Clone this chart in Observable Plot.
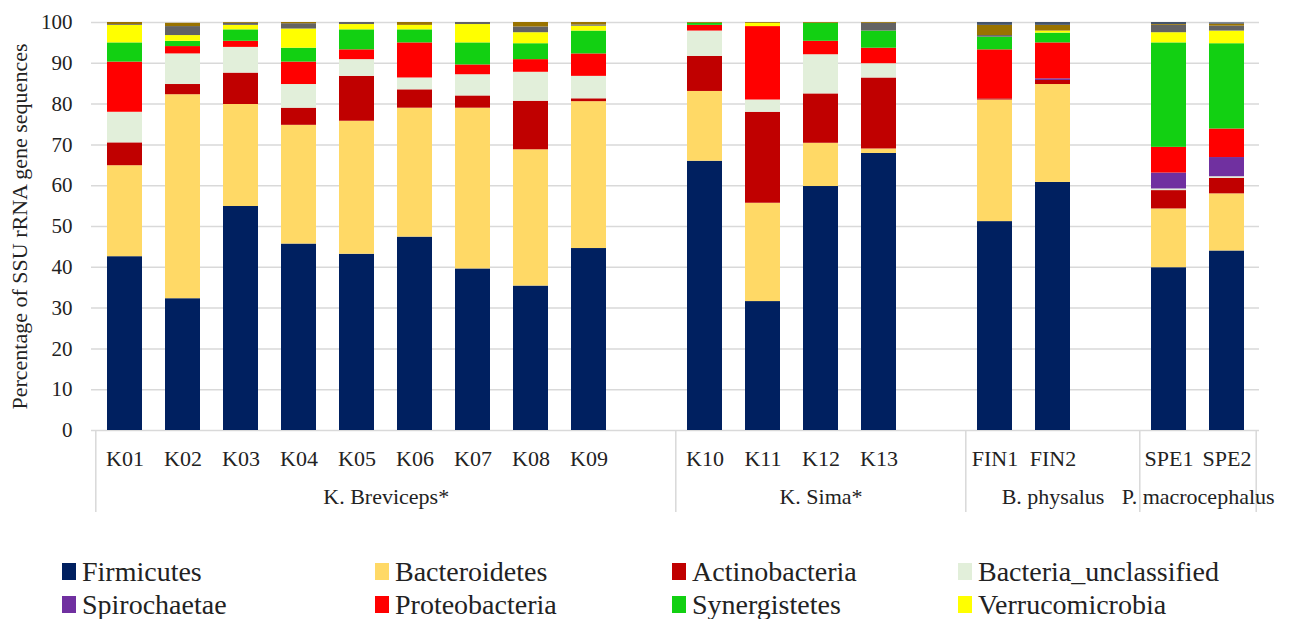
<!DOCTYPE html>
<html>
<head>
<meta charset="utf-8">
<script src="https://cdn.jsdelivr.net/npm/d3@7"></script>
<script src="https://cdn.jsdelivr.net/npm/@observablehq/plot@0.6"></script>
<style>
  html, body { margin: 0; padding: 0; background: #fff; }
  #wrap { position: relative; width: 1292px; height: 619px; overflow: hidden; }
  #legend { position: absolute; left: 62px; top: 555px; font-family: "Liberation Serif", "DejaVu Serif", serif; font-size: 28px; color: #222; }
  .row { display: flex; height: 33px; align-items: center; }
  .item { display: flex; align-items: center; white-space: nowrap; }
  .sw { display: inline-block; width: 14px; height: 17px; margin-right: 6px; }
  svg text { font-family: "Liberation Serif", "DejaVu Serif", serif; }
</style>
</head>
<body>
<div id="wrap"><div id="chart"></div><div id="legend"></div></div>
<script>
// ---- data ----
const samples = ["K01","K02","K03","K04","K05","K06","K07","K08","K09","K10","K11","K12","K13","FIN1","FIN2","SPE1","SPE2"];
// category slots along the axis (gaps separate the species groups)
const slots = ["K01","K02","K03","K04","K05","K06","K07","K08","K09","gap1","K10","K11","K12","K13","gap2","FIN1","FIN2","gap3","SPE1","SPE2"];

const phyla = ["Firmicutes","Bacteroidetes","Actinobacteria","Bacteria_unclassified","Spirochaetae","Proteobacteria","Synergistetes","Verrucomicrobia","Other (grey)","Other (olive)","Other (slate)"];
const legendPhyla = ["Firmicutes","Bacteroidetes","Actinobacteria","Bacteria_unclassified","Spirochaetae","Proteobacteria","Synergistetes","Verrucomicrobia"];
const colors = ["#002060","#FFD966","#C00000","#E2EFDA","#7030A0","#FF0000","#12D012","#FFFF00","#636363","#997300","#44546A"];

//                      K01   K02   K03   K04   K05   K06   K07   K08   K09   K10   K11   K12   K13   FIN1  FIN2  SPE1  SPE2
const firmicutes     = [42.6, 32.3, 54.9, 45.7, 43.2, 47.4, 39.6, 35.4, 44.6, 66.0, 31.6, 59.8, 67.9, 51.2, 60.8, 39.9, 44.0];
const bacteroidetes  = [22.3, 50.0, 25.0, 29.1, 32.6, 31.6, 39.4, 33.4, 36.0, 17.1, 24.1, 10.6,  1.1, 29.8, 24.0, 14.4, 14.0];
const actinobacteria = [ 5.6,  2.5,  7.7,  4.2, 11.0,  4.5,  3.0, 11.9,  0.7,  8.6, 22.3, 12.1, 17.4,  0.3,  1.0,  4.5,  3.8];
const unclassified   = [ 7.5,  7.5,  6.3,  5.8,  4.1,  2.9,  5.2,  7.1,  5.5,  6.2,  3.0,  9.6,  3.5,  0.0,  0.0,  0.4,  0.4];
const spirochaetae   = [ 0.0,  0.0,  0.0,  0.0,  0.0,  0.0,  0.0,  0.0,  0.0,  0.0,  0.0,  0.0,  0.0,  0.0,  0.4,  3.9,  4.7];
const proteobacteria = [12.3,  1.8,  1.5,  5.5,  2.4,  8.6,  2.4,  3.1,  5.5,  1.4, 18.0,  3.3,  3.8, 12.0,  8.8,  6.3,  7.0];
const synergistetes  = [ 4.7,  1.3,  2.8,  3.4,  4.9,  3.2,  5.4,  3.9,  5.6,  0.5,  0.0,  4.4,  4.2,  3.1,  2.4, 25.6, 20.9];
const verrucomicrobia= [ 4.3,  1.4,  1.1,  4.7,  1.3,  1.1,  4.5,  2.7,  1.2,  0.0,  0.8,  0.0,  0.0,  0.0,  0.5,  2.5,  3.1];
const otherGrey      = [ 0.2,  2.2,  0.5,  1.3,  0.5,  0.0,  0.5,  1.4,  0.3,  0.0,  0.0,  0.0,  1.9,  0.4,  0.0,  1.8,  1.2];
const otherOlive     = [ 0.5,  0.8,  0.2,  0.3,  0.0,  0.7,  0.0,  1.1,  0.6,  0.2,  0.2,  0.2,  0.2,  2.5,  1.4,  0.2,  0.5];
const otherSlate     = [ 0.0,  0.0,  0.0,  0.0,  0.0,  0.0,  0.0,  0.0,  0.0,  0.0,  0.0,  0.0,  0.0,  0.7,  0.7,  0.5,  0.3];
const series = [firmicutes, bacteroidetes, actinobacteria, unclassified, spirochaetae, proteobacteria, synergistetes, verrucomicrobia, otherGrey, otherOlive, otherSlate];

const groupNames = ["K. Breviceps*", "K. Sima*", "B. physalus", "P. macrocephalus"];
const groupFirst = ["K01", "K10", "FIN1", "SPE1"];
const groupLast  = ["gap1", "gap2", "gap3", "SPE2"];
const yTicks = [0,10,20,30,40,50,60,70,80,90,100];
const yLabel = "Percentage of SSU rRNA gene sequences";

// ---- build ----
const tidy = phyla.flatMap((p, j) => samples.map((s, i) => ({sample: s, phylum: p, value: series[j][i]})));

const W = 1292, H = 540, ML = 91, MR = 33, MT = 22, MB = 110;
const step = (W - ML - MR) / slots.length;
const FONT = '"Liberation Serif", "DejaVu Serif", serif';
const GRID = "#d9d9d9";

const groupMarks = groupNames.map((name, k) => {
  const a = slots.indexOf(groupFirst[k]), b = slots.indexOf(groupLast[k]);
  const c = (a + b) / 2, ci = Math.floor(c);
  return Plot.text([name], {x: () => slots[ci], text: d => d, frameAnchor: "bottom", dy: 73, dx: (c - ci) * step, fontSize: 22, fill: "#222"});
});

const chart = Plot.plot({
  width: W, height: H, marginLeft: ML, marginRight: MR, marginTop: MT, marginBottom: MB,
  style: {fontFamily: FONT, fontSize: "20px", color: "#222", background: "#fff", overflow: "visible"},
  x: {type: "band", domain: slots, paddingInner: 0.4, paddingOuter: 0.2, align: 0.5},
  y: {domain: [0, 100]},
  color: {domain: phyla, range: colors},
  marks: [
    Plot.gridY(yTicks.filter(t => t > 0), {stroke: GRID, strokeOpacity: 1, strokeWidth: 1.5}),
    Plot.ruleY([0], {stroke: GRID, strokeWidth: 1.5}),
    Plot.barY(tidy, {x: "sample", y: "value", fill: "phylum"}),
    Plot.axisY({ticks: yTicks, tickSize: 0, tickPadding: 19, fontSize: 21, label: null}),
    Plot.text([yLabel], {text: d => d, frameAnchor: "left", textAnchor: "middle", lineAnchor: "middle", rotate: -90, dx: -72, fontSize: 22, fill: "#222"}),
    Plot.axisX({tickSize: 0, tickPadding: 20, fontSize: 22, label: null, tickFormat: d => d.startsWith("gap") ? "" : d}),
    Plot.ruleX(groupFirst, {x: d => d, y1: 0, insetBottom: -82, dx: -step / 2, stroke: GRID, strokeWidth: 1.5}),
    Plot.ruleX(groupLast.slice(-1), {x: d => d, y1: 0, insetBottom: -82, dx: step / 2, stroke: GRID, strokeWidth: 1.5}),
    ...groupMarks
  ]
});
document.getElementById("chart").appendChild(chart);

// ---- legend ----
const legend = document.getElementById("legend");
const colW = [313, 297, 286, 300];
for (let r = 0; r < 2; r++) {
  const row = document.createElement("div");
  row.className = "row";
  for (let c = 0; c < 4; c++) {
    const name = legendPhyla[r * 4 + c];
    const item = document.createElement("div");
    item.className = "item";
    item.style.width = colW[c] + "px";
    const sw = document.createElement("span");
    sw.className = "sw";
    sw.style.background = colors[phyla.indexOf(name)];
    item.appendChild(sw);
    item.appendChild(document.createTextNode(name));
    row.appendChild(item);
  }
  legend.appendChild(row);
}
</script>
</body>
</html>
